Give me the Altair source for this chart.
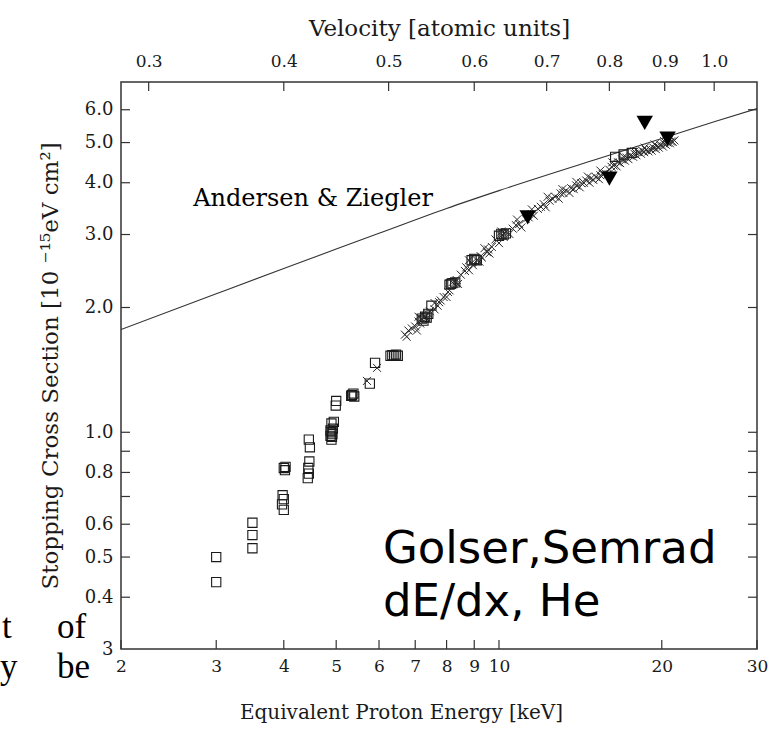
import altair as alt
import pandas as pd

# ---------------- data ----------------
x_ticks = [2, 3, 4, 5, 6, 7, 8, 9, 10, 20, 30]
y_labels = [0.3, 0.4, 0.5, 0.6, 0.8, 1.0, 2.0, 3.0, 4.0, 5.0, 6.0]
y_ticks = [0.4, 0.5, 0.6, 0.7, 0.8, 0.9, 1.0, 2.0, 3.0, 4.0, 5.0, 6.0]
vel_ticks = [0.3, 0.4, 0.5, 0.6, 0.7, 0.8, 0.9, 1.0]

# Andersen & Ziegler curve
az_E = [2, 3, 4, 5, 6, 8, 10, 15, 20, 25, 30]
az_S = [1.77, 2.158, 2.483, 2.767, 3.02, 3.467, 3.828, 4.539, 5.117, 5.61, 6.04]

# open squares
sq_E = [3.0, 3.0,
        3.5, 3.5, 3.5,
        4.0, 4.02, 3.98, 4.0, 3.97, 4.0, 4.03,
        4.45, 4.47, 4.46, 4.44, 4.45, 4.43,
        4.9, 4.92, 4.88, 4.9, 4.93, 4.9, 4.88, 4.95, 4.99, 5.0, 4.91,
        5.35, 5.4, 5.38, 5.33,
        5.77, 5.9,
        6.3, 6.4, 6.5, 6.45, 6.35,
        7.2, 7.3, 7.4, 7.5, 7.25, 7.35,
        8.1, 8.2, 8.3, 8.15,
        8.9, 9.0, 9.1, 9.05,
        10.0, 10.2, 10.3, 10.1,
        16.4, 17.0, 17.6]
sq_S = [0.50, 0.435,
        0.525, 0.565, 0.605,
        0.82, 0.81, 0.705, 0.69, 0.67, 0.65, 0.825,
        0.96, 0.92, 0.85, 0.82, 0.795, 0.775,
        1.0, 0.99, 0.98, 0.96, 1.02, 1.05, 1.01, 1.06, 1.16, 1.19, 0.975,
        1.23, 1.22, 1.24, 1.225,
        1.31, 1.47,
        1.53, 1.53, 1.53, 1.54, 1.535,
        1.88, 1.90, 1.93, 2.02, 1.86, 1.89,
        2.27, 2.29, 2.30, 2.28,
        2.60, 2.62, 2.60, 2.61,
        2.98, 3.00, 3.02, 3.01,
        4.62, 4.68, 4.72]

# crosses
cr_E = [5.7, 5.95, 6.7, 6.8, 6.9, 7.0, 7.1, 7.2, 7.3, 7.4, 7.6, 7.8, 7.9, 8.1,
        8.3, 8.5, 8.7, 8.9, 9.1, 9.3, 9.5, 9.7, 9.9, 10.1, 10.3, 10.6, 10.9,
        11.2, 11.5, 11.8, 12.1, 12.4, 12.7, 13.0, 13.3, 13.6, 13.9, 14.2, 14.5,
        14.8, 15.1, 15.4, 15.7, 16.0, 16.3, 16.6, 16.9, 17.2, 17.5, 17.8, 18.1,
        18.4, 18.7, 19.0, 19.3, 19.6, 19.9, 20.2, 20.5, 20.8, 21.1,
        7.05, 7.35, 7.7, 8.0, 8.4, 8.8, 9.2, 9.6, 10.0, 10.45, 11.0, 11.6,
        12.2, 12.9, 13.5, 14.1, 14.7, 15.3, 15.9, 16.5, 17.1, 17.7, 18.3,
        18.9, 19.5, 20.1, 20.7,
        6.75, 7.15, 7.45, 7.75, 8.05, 8.35, 8.65, 8.95, 9.25, 9.55, 9.85, 10.2,
        10.75, 11.35, 11.95, 12.55, 13.15, 13.75, 14.35, 14.95, 15.55, 16.15,
        16.75, 17.35, 17.95, 18.55, 19.15, 19.75, 20.35, 20.95,
        7.1, 7.6, 8.2, 8.8, 9.4, 10.1, 10.8, 11.5, 12.3, 13.1, 13.9, 14.6,
        15.4, 16.2, 17.0, 17.8, 18.6, 19.4, 20.2]
cr_S = [1.33, 1.43, 1.72, 1.76, 1.78, 1.80, 1.85, 1.88, 1.90, 1.93, 1.98, 2.08,
        2.12, 2.20, 2.30, 2.40, 2.50, 2.56, 2.60, 2.64, 2.72, 2.80, 2.90, 2.98,
        3.04, 3.10, 3.18, 3.27, 3.36, 3.46, 3.55, 3.62, 3.70, 3.77, 3.83, 3.88,
        3.94, 3.99, 4.05, 4.10, 4.13, 4.17, 4.22, 4.30, 4.40, 4.48, 4.55, 4.60,
        4.65, 4.70, 4.74, 4.78, 4.80, 4.83, 4.86, 4.90, 4.93, 4.97, 5.00, 5.03,
        5.06,
        1.76, 1.88, 2.02, 2.12, 2.28, 2.46, 2.58, 2.70, 2.86, 3.01, 3.12, 3.33,
        3.49, 3.66, 3.78, 3.90, 4.00, 4.08, 4.19, 4.38, 4.52, 4.62, 4.70,
        4.76, 4.82, 4.89, 4.98,
        1.70, 1.83, 1.96, 2.06, 2.18, 2.33, 2.45, 2.53, 2.66, 2.76, 2.92, 2.96,
        3.16, 3.30, 3.50, 3.66, 3.78, 3.86, 4.00, 4.06, 4.20, 4.37, 4.46, 4.56,
        4.66, 4.74, 4.78, 4.86, 4.94, 5.02,
        1.90, 2.05, 2.30, 2.60, 2.78, 3.05, 3.26, 3.45, 3.70, 3.86, 4.02, 4.14,
        4.28, 4.48, 4.62, 4.76, 4.86, 4.95, 5.04]

# filled triangles
tr_E = [11.3, 16.0, 18.6, 20.5]
tr_S = [3.30, 4.09, 5.58, 5.11]

# ---------------- chart ----------------
W, H = 636, 567
SERIF = "DejaVu Serif"
INK = "#1a1a1a"

xscale = alt.Scale(type="log", domain=[2, 30], nice=False)
yscale = alt.Scale(type="log", domain=[0.3, 7], nice=False)

az = pd.DataFrame({"E": az_E, "S": az_S})
sq = pd.DataFrame({"E": sq_E, "S": sq_S})
cr = pd.DataFrame({"E": cr_E, "S": cr_S})
tr = pd.DataFrame({"E": tr_E, "S": tr_S})
xt = pd.DataFrame({"E": x_ticks})
yt = pd.DataFrame({"S": y_ticks})
vt = pd.DataFrame({"v": vel_ticks})

XN = alt.X("E:Q", scale=xscale, axis=None)
YN = alt.Y("S:Q", scale=yscale, axis=None)

x_bottom = alt.X(
    "E:Q", scale=xscale,
    axis=alt.Axis(orient="bottom", values=x_ticks, format="d", tickSize=0,
                  domain=False, grid=False, labelOverlap=False, labelFlush=False,
                  labelFont=SERIF, labelFontSize=17, labelColor=INK, labelPadding=9,
                  title="Equivalent Proton Energy [keV]", titleFont=SERIF,
                  titleFontSize=20, titleFontWeight="normal", titleColor=INK,
                  titlePadding=28, titleX=280),
)
y_left = alt.Y(
    "S:Q", scale=yscale,
    axis=alt.Axis(orient="left", values=y_labels, tickSize=0, domain=False,
                  grid=False, labelOverlap=False, labelFlush=False,
                  labelExpr="datum.value == 0.3 ? '3' : format(datum.value, '.1f')",
                  labelFont=SERIF, labelFontSize=18, labelColor=INK, labelPadding=8,
                  title="Stopping Cross Section [10 ⁻¹⁵eV cm²]", titleFont=SERIF,
                  titleFontSize=23, titleFontWeight="normal", titleColor=INK,
                  titlePadding=22),
)

line = alt.Chart(az).mark_line(color="#333", strokeWidth=1.1, clip=True,
                               interpolate="monotone").encode(
    x=x_bottom, y=y_left
)

squares = alt.Chart(sq).mark_point(shape="square", filled=False, size=85,
                                   strokeWidth=1.1, color=INK, opacity=1).encode(
    x=XN, y=YN
)

crosses = alt.Chart(cr).mark_point(shape="M-1,-1L1,1M1,-1L-1,1", filled=False,
                                   size=64, strokeWidth=1.0, color="#2a2a2a",
                                   opacity=1).encode(
    x=XN, y=YN
)

triangles = alt.Chart(tr).mark_point(shape="triangle-down", filled=True, size=270,
                                     color="#000", opacity=1).encode(
    x=XN, y=YN
)

# inward tick marks
bottom_ticks = alt.Chart(xt).mark_rule(color="#333", strokeWidth=1.2).encode(
    x=XN, y=alt.value(H), y2=alt.value(H - 9)
)
top_ticks = alt.Chart(vt).transform_calculate(E="25*datum.v*datum.v").mark_rule(
    color="#333", strokeWidth=1.2).encode(
    x=alt.X("E:Q", scale=xscale,
            axis=alt.Axis(orient="top", values=[25 * v * v for v in vel_ticks],
                          labelExpr="format(sqrt(datum.value/25), '.1f')",
                          tickSize=0, domain=False, grid=False, labelOverlap=False,
                          labelFlush=False, labelFont=SERIF, labelFontSize=17,
                          labelColor=INK, labelPadding=12,
                          title="Velocity [atomic units]", titleFont=SERIF,
                          titleFontSize=23, titleFontWeight="normal",
                          titleColor=INK, titlePadding=12)),
    y=alt.value(0), y2=alt.value(9)
)
left_ticks = alt.Chart(yt).mark_rule(color="#333", strokeWidth=1.2).encode(
    y=YN, x=alt.value(0), x2=alt.value(9)
)
right_ticks = alt.Chart(yt).mark_rule(color="#333", strokeWidth=1.2).encode(
    y=YN, x=alt.value(W), x2=alt.value(W - 9)
)


def label(txt, e, s, font, size, align="left", baseline="alphabetic"):
    return alt.Chart(az).mark_text(text=txt, font=font, fontSize=size, align=align,
                                   baseline=baseline, color="#000").encode(
        x=alt.X("e:Q", scale=xscale, axis=None),
        y=alt.Y("s:Q", scale=yscale, axis=None),
    ).transform_aggregate(n="count()").transform_calculate(e=str(e), s=str(s))


az_label = label("Andersen & Ziegler", 2.72, 3.66, SERIF, 24, baseline="middle")
golser1 = label("Golser,Semrad", 6.1, 0.483, "DejaVu Sans", 45)
golser2 = label("dE/dx, He", 6.1, 0.36, "DejaVu Sans", 45)


def side(txt, px, py):
    return alt.Chart(az).mark_text(text=txt, font="Liberation Serif", fontSize=35,
                                   align="left", baseline="alphabetic",
                                   color="#000").encode(
        x=alt.value(px), y=alt.value(py)
    ).transform_aggregate(n="count()")


side_t = side("t", -119, H - 11)
side_of = side("of", -64, H - 11)
side_y = side("y", -121, H + 29)
side_be = side("be", -64, H + 29)

chart = alt.layer(
    line, squares, crosses, triangles,
    bottom_ticks, top_ticks, left_ticks, right_ticks,
    az_label, golser1, golser2, side_t, side_of, side_y, side_be,
).resolve_axis(x="independent", y="independent").properties(
    width=W, height=H,
    autosize=alt.AutoSizeParams(type="none"),
    padding={"left": 121, "top": 82, "right": 25, "bottom": 82},
    background="white",
).configure_view(stroke="#333", strokeWidth=1.5)

chart.save("out.html", embed_options={"renderer": "svg", "actions": False})
